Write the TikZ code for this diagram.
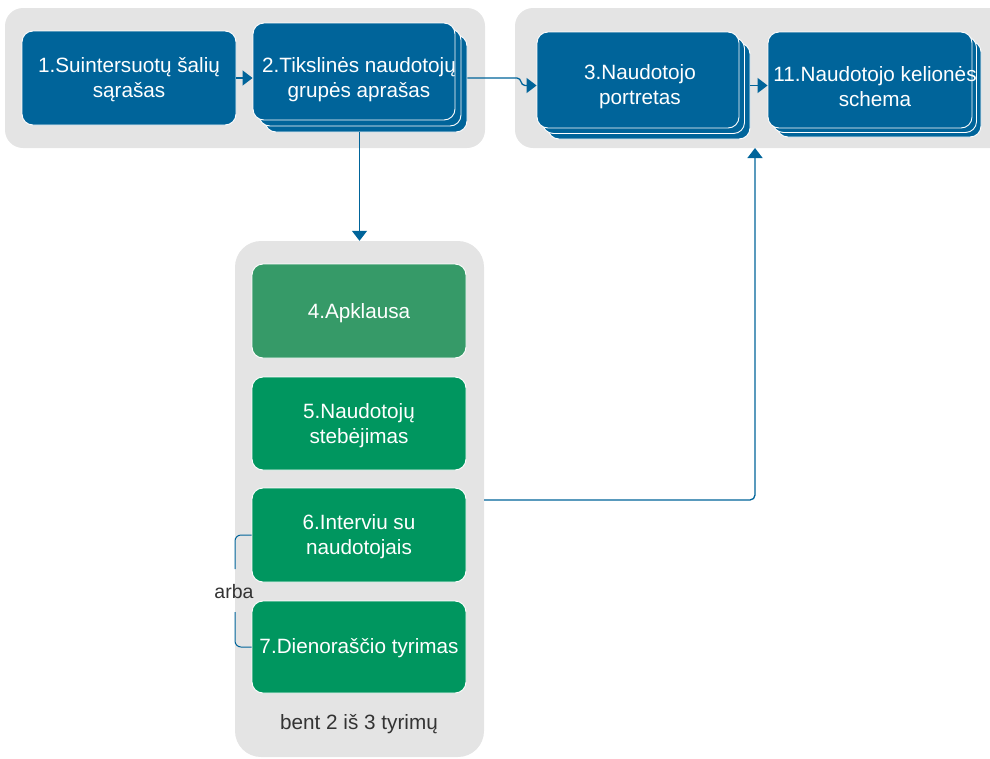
\documentclass[tikz,border=0pt]{standalone}
\usepackage{fontspec}
\setmainfont{Liberation Sans}
\usetikzlibrary{arrows.meta}
\definecolor{bblue}{HTML}{00649A}
\definecolor{lgreen}{HTML}{369A68}
\definecolor{dgreen}{HTML}{00965F}
\definecolor{grp}{HTML}{E4E4E4}
\definecolor{txtgray}{HTML}{333333}
\tikzset{
  grpbox/.style={fill=grp, draw=none, rounded corners=18pt, inner sep=0pt},
  box/.style={rounded corners=11pt, draw=white, line width=0.9pt, inner sep=0pt},
  boxtext/.style={text=white, align=center, font=\fontsize{20.7}{25}\selectfont, inner sep=0pt},
  bluebox/.style={box, fill=bblue},
  conn/.style={draw=bblue, line width=1.3pt},
  tip/.style={-{Triangle[length=10pt,width=15pt]}},
  plain/.style={text=txtgray, font=\fontsize{20.7}{25}\selectfont, inner sep=0pt},
}
\begin{document}
\begin{tikzpicture}[x=1pt,y=-1pt]
\useasboundingbox (0,0) rectangle (990,758);
\begin{scope}
\clip (0,0) rectangle (990,758);
% groups
\node[grpbox, minimum width=480pt, minimum height=140pt] (g1) at (245,78) {};
\node[grpbox, minimum width=500pt, minimum height=140pt] (g2) at (765,78) {};
\node[grpbox, rounded corners=26pt, minimum width=249pt, minimum height=516pt] (g3) at (359.5,499) {};

% node 1
\node[bluebox, minimum width=214pt, minimum height=94pt,
  label={[boxtext, yshift=-2pt]center:1.Suintersuotų šalių\\sąrašas}] (n1) at (129,78) {};
% node 2 stack
\node[bluebox, minimum width=202pt, minimum height=97pt] (n2c) at (366,83.5) {};
\node[bluebox, minimum width=202pt, minimum height=97pt] (n2b) at (360,77.5) {};
\node[bluebox, minimum width=202pt, minimum height=97pt,
  label={[boxtext, xshift=5pt, yshift=-8pt]center:2.Tikslinės naudotojų\\grupės aprašas}] (n2) at (354,71.5) {};
% node 3 stack
\node[bluebox, minimum width=202pt, minimum height=96pt] (n3c) at (649,91) {};
\node[bluebox, minimum width=202pt, minimum height=96pt] (n3b) at (643.5,85.5) {};
\node[bluebox, minimum width=202pt, minimum height=96pt,
  label={[boxtext, xshift=2pt, yshift=-7pt]center:3.Naudotojo\\portretas}] (n3) at (638,80) {};
% node 11 stack
\node[bluebox, minimum width=204pt, minimum height=96pt] (n11c) at (879,89) {};
\node[bluebox, minimum width=204pt, minimum height=96pt] (n11b) at (874.5,84.5) {};
\node[bluebox, minimum width=204pt, minimum height=96pt,
  label={[boxtext, xshift=5pt, yshift=-7pt]center:11.Naudotojo kelionės\\schema}] (n11) at (870,80) {};
\end{scope}

% green nodes
\node[box, fill=lgreen, minimum width=214pt, minimum height=94pt,
  label={[boxtext, yshift=-2pt]center:4.Apklausa}] (n4) at (359,311) {};
\node[box, fill=dgreen, minimum width=214pt, minimum height=93pt,
  label={[boxtext, yshift=-2pt]center:5.Naudotojų\\stebėjimas}] (n5) at (359,423.5) {};
\node[box, fill=dgreen, minimum width=214pt, minimum height=94pt,
  label={[boxtext, yshift=-2pt]center:6.Interviu su\\naudotojais}] (n6) at (359,535) {};
\node[box, fill=dgreen, minimum width=214pt, minimum height=92pt,
  label={[boxtext, yshift=-1pt]center:7.Dienoraščio tyrimas}] (n7) at (359,647) {};
\node[plain] (note) at (359,724) {bent 2 iš 3 tyrimų};
\node[plain, font=\fontsize{19.5}{23}\selectfont] (arba) at (234,592) {arba};

% connectors
\draw[conn, tip] (n1.east) -- (n2.west |- n1.east);
\coordinate (hop1) at (517,78);
\coordinate (hop2) at (525,85.5);
\draw[conn, tip] (n2c.east |- n1.east) -- (hop1) .. controls (522,78) and (520,85.5) .. (hop2) -- (n3.west |- n3b.west);
\draw[conn, tip] (n3c.east |- n3b.west) -- (n11.west |- n3b.west);
\draw[conn, tip] (n2c.south -| g3.north) -- (g3.north);
\coordinate (out6) at (g3.east |- 0,500);
\coordinate (in3) at (755,148);
\draw[conn, tip, rounded corners=5pt] (out6) -| (in3);
\coordinate (brTop) at (235,569);
\coordinate (brBot) at (235,612);
\draw[conn, line width=1pt, rounded corners=6pt] (n6.west) -| (brTop);
\draw[conn, line width=1pt, rounded corners=6pt] (n7.west) -| (brBot);
\end{tikzpicture}
\end{document}
